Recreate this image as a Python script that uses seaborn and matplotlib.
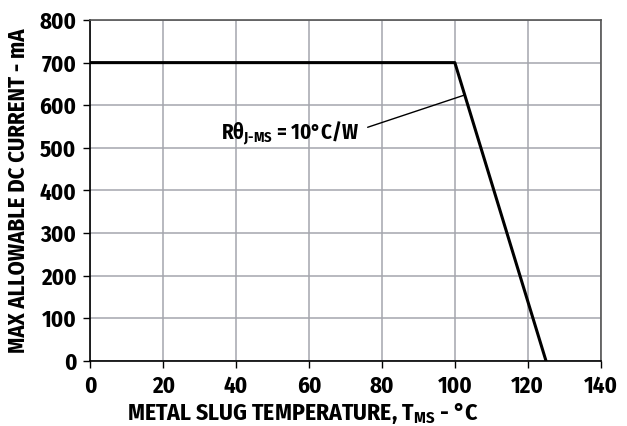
import numpy as np
import pandas as pd
import matplotlib
matplotlib.use("Agg")
import matplotlib.pyplot as plt
import seaborn as sns

# derating curve
temp_c = [0, 100, 125]
current_ma = [700, 700, 0]
x_ticks = [0, 20, 40, 60, 80, 100, 120, 140]
y_ticks = [0, 100, 200, 300, 400, 500, 600, 700, 800]

sns.set_theme(style="whitegrid")
COND = "Fira Sans Condensed"
plt.rcParams["font.family"] = [COND, "Open Sans", "DejaVu Sans"]
plt.rcParams["font.weight"] = "bold"
plt.rcParams["mathtext.fontset"] = "custom"
plt.rcParams["mathtext.rm"] = COND + ":bold"
plt.rcParams["mathtext.it"] = COND + ":bold"
plt.rcParams["mathtext.bf"] = COND + ":bold"
for k in ("text.color", "axes.labelcolor", "xtick.color", "ytick.color"):
    plt.rcParams[k] = "black"

df = pd.DataFrame({"temp": temp_c, "current": current_ma})

fig, ax = plt.subplots(figsize=(6.27, 4.26), dpi=100)
fig.subplots_adjust(left=0.144, right=0.958, top=0.953, bottom=0.153)

sns.lineplot(data=df, x="temp", y="current", ax=ax, color="black", linewidth=2.2)

ax.set_xlim(0, 140)
ax.set_ylim(0, 800)
ax.set_xticks(x_ticks)
ax.set_yticks(y_ticks)
ax.grid(True, color="#a4a6ad", linewidth=1.1)
for s in ax.spines.values():
    s.set_color("#555555")
    s.set_linewidth(1.2)
ax.spines["left"].set_color("black")
ax.spines["bottom"].set_color("black")
ax.tick_params(axis="both", which="both", left=True, bottom=True, length=5, width=1,
               color="black", labelsize=16.5)
ax.tick_params(axis="y", pad=5)
ax.tick_params(axis="x", pad=5)
for lab in ax.get_xticklabels() + ax.get_yticklabels():
    lab.set_fontweight("bold")

ax.set_xlabel(r"METAL SLUG TEMPERATURE, T$_{\mathrm{MS}}$ - °C", fontsize=17,
              fontweight="bold", labelpad=2, x=0.417)
ax.set_ylabel("MAX ALLOWABLE DC CURRENT - mA", fontsize=16.3, fontweight="bold",
              labelpad=7)

ax.annotate(r"Rθ$_{\mathrm{J\text{-}MS}}$ = 10°C/W", xy=(102.7, 624), xytext=(35.9, 535),
            fontsize=15, fontweight="bold", va="center", ha="left",
            arrowprops=dict(arrowstyle="-", color="black", lw=1, shrinkA=4, shrinkB=0,
                            relpos=(1.0, 0.6)))

fig.savefig("out.png", dpi=100)
